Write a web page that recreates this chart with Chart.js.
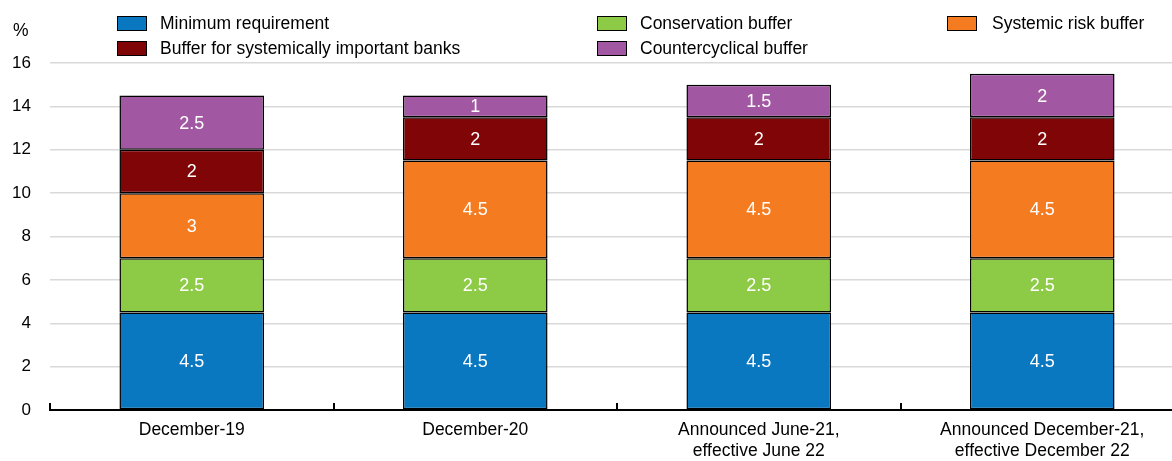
<!DOCTYPE html>
<html>
<head>
<meta charset="utf-8">
<script src="https://cdn.jsdelivr.net/npm/chart.js@4.4.0/dist/chart.umd.min.js"></script>
<style>
  html, body { margin: 0; padding: 0; background: #fff; overflow: hidden; }
  body { width: 1172px; height: 461px; position: relative;
         font-family: 'Liberation Sans', Arial, sans-serif; }
  #wrap { position: absolute; left: 0; top: 0; width: 1184px; height: 461px; }
  #unit { position: absolute; left: 13px; top: 20px; font-size: 17.5px; color: #000; }
  .leg { position: absolute; font-size: 17.5px; color: #000; white-space: nowrap; }
  .leg span.box { position: absolute; left: 0; top: 0; width: 28px; height: 13px; border: 1px solid #000; }
  .leg span.txt { position: absolute; top: -3px; }
</style>
</head>
<body>
<div id="wrap"><canvas id="myChart"></canvas></div>
<div id="unit">%</div>
<div id="legend"></div>
<script>
// categories and stacked values (bottom to top)
var categories = [
  "December-19",
  "December-20",
  ["Announced June-21,", "effective June 22"],
  ["Announced December-21,", "effective December 22"]
];
var minimumReq   = [4.5, 4.5, 4.5, 4.5];
var conservation = [2.5, 2.5, 2.5, 2.5];
var systemicRisk = [3, 4.5, 4.5, 4.5];
var sibBuffer    = [2, 2, 2, 2];
var countercycl  = [2.5, 1, 1.5, 2];
var yTicks = [0, 2, 4, 6, 8, 10, 12, 14, 16];

Chart.defaults.font.family = "'Liberation Sans', Arial, sans-serif";
Chart.defaults.color = "#000";

function ds(label, data, color) {
  return {
    label: label,
    data: data,
    backgroundColor: color,
    borderColor: "#000",
    borderWidth: 1.5,
    borderSkipped: false,
    barPercentage: 0.51,
    categoryPercentage: 1.0,
  };
}

// white numbers in the middle of each segment
const segLabels = {
  id: "segLabels",
  afterDatasetsDraw(chart) {
    const c = chart.ctx;
    c.save();
    c.fillStyle = "#fff";
    c.font = "18px " + Chart.defaults.font.family;
    c.textAlign = "center";
    c.textBaseline = "middle";
    chart.data.datasets.forEach((d, i) => {
      chart.getDatasetMeta(i).data.forEach((el, j) => {
        c.fillText(String(d.data[j]), el.x, (el.y + el.base) / 2 + 1);
      });
    });
    c.restore();
  }
};

// short upward tick marks between categories
const catTicks = {
  id: "catTicks",
  afterDraw(chart) {
    const x = chart.scales.x, c = chart.ctx;
    const step = x.getPixelForValue(1) - x.getPixelForValue(0);
    c.save();
    c.strokeStyle = "#000";
    c.lineWidth = 2;
    for (let i = 0; i <= categories.length; i++) {
      const px = Math.round(x.getPixelForValue(0) - step / 2 + i * step);
      c.beginPath();
      c.moveTo(px, x.top - 7);
      c.lineTo(px, x.top);
      c.stroke();
    }
    c.restore();
  }
};

const ctx = document.getElementById("myChart");
const chart = new Chart(ctx, {
  type: "bar",
  data: {
    labels: categories,
    datasets: [
      ds("Minimum requirement", minimumReq, "#0A78C0"),
      ds("Conservation buffer", conservation, "#8DCB47"),
      ds("Systemic risk buffer", systemicRisk, "#F47B20"),
      ds("Buffer for systemically important banks", sibBuffer, "#7F0506"),
      ds("Countercyclical buffer", countercycl, "#A157A1"),
    ],
  },
  options: {
    responsive: true,
    maintainAspectRatio: false,
    animation: false,
    layout: { padding: { top: 63, right: 0, bottom: 0, left: 0 } },
    plugins: {
      legend: { display: false },
      tooltip: { enabled: false },
    },
    scales: {
      x: {
        stacked: true,
        afterFit: (s) => { s.height = 51; },
        grid: { display: false },
        border: { display: true, color: "#000", width: 2 },
        ticks: { padding: 2, font: { size: 17.5, lineHeight: 1.2 }, maxRotation: 0 },
      },
      y: {
        stacked: true,
        min: 0,
        max: 16,
        afterFit: (s) => { s.width = 50; },
        afterBuildTicks: (s) => { s.ticks = yTicks.map((v) => ({ value: v })); },
        grid: { color: "#D9D9D9", lineWidth: 1.5, drawTicks: false },
        border: { display: false },
        ticks: { padding: 19, font: { size: 17 } },
      },
    },
  },
  plugins: [segLabels, catTicks],
});

// legend laid out in three columns
var legendSpots = [[117, 16], [597, 16], [947, 16], [117, 41], [597, 41]];
var legendBox = document.getElementById("legend");
chart.data.datasets.forEach((d, i) => {
  var el = document.createElement("div");
  el.className = "leg";
  el.style.left = legendSpots[i][0] + "px";
  el.style.top = legendSpots[i][1] + "px";
  el.innerHTML = '<span class="box" style="background:' + d.backgroundColor + '"></span>' +
                 '<span class="txt" style="left:' + (i % 3 === 2 ? 45 : 43) + 'px">' + d.label + '</span>';
  legendBox.appendChild(el);
});
</script>
</body>
</html>
